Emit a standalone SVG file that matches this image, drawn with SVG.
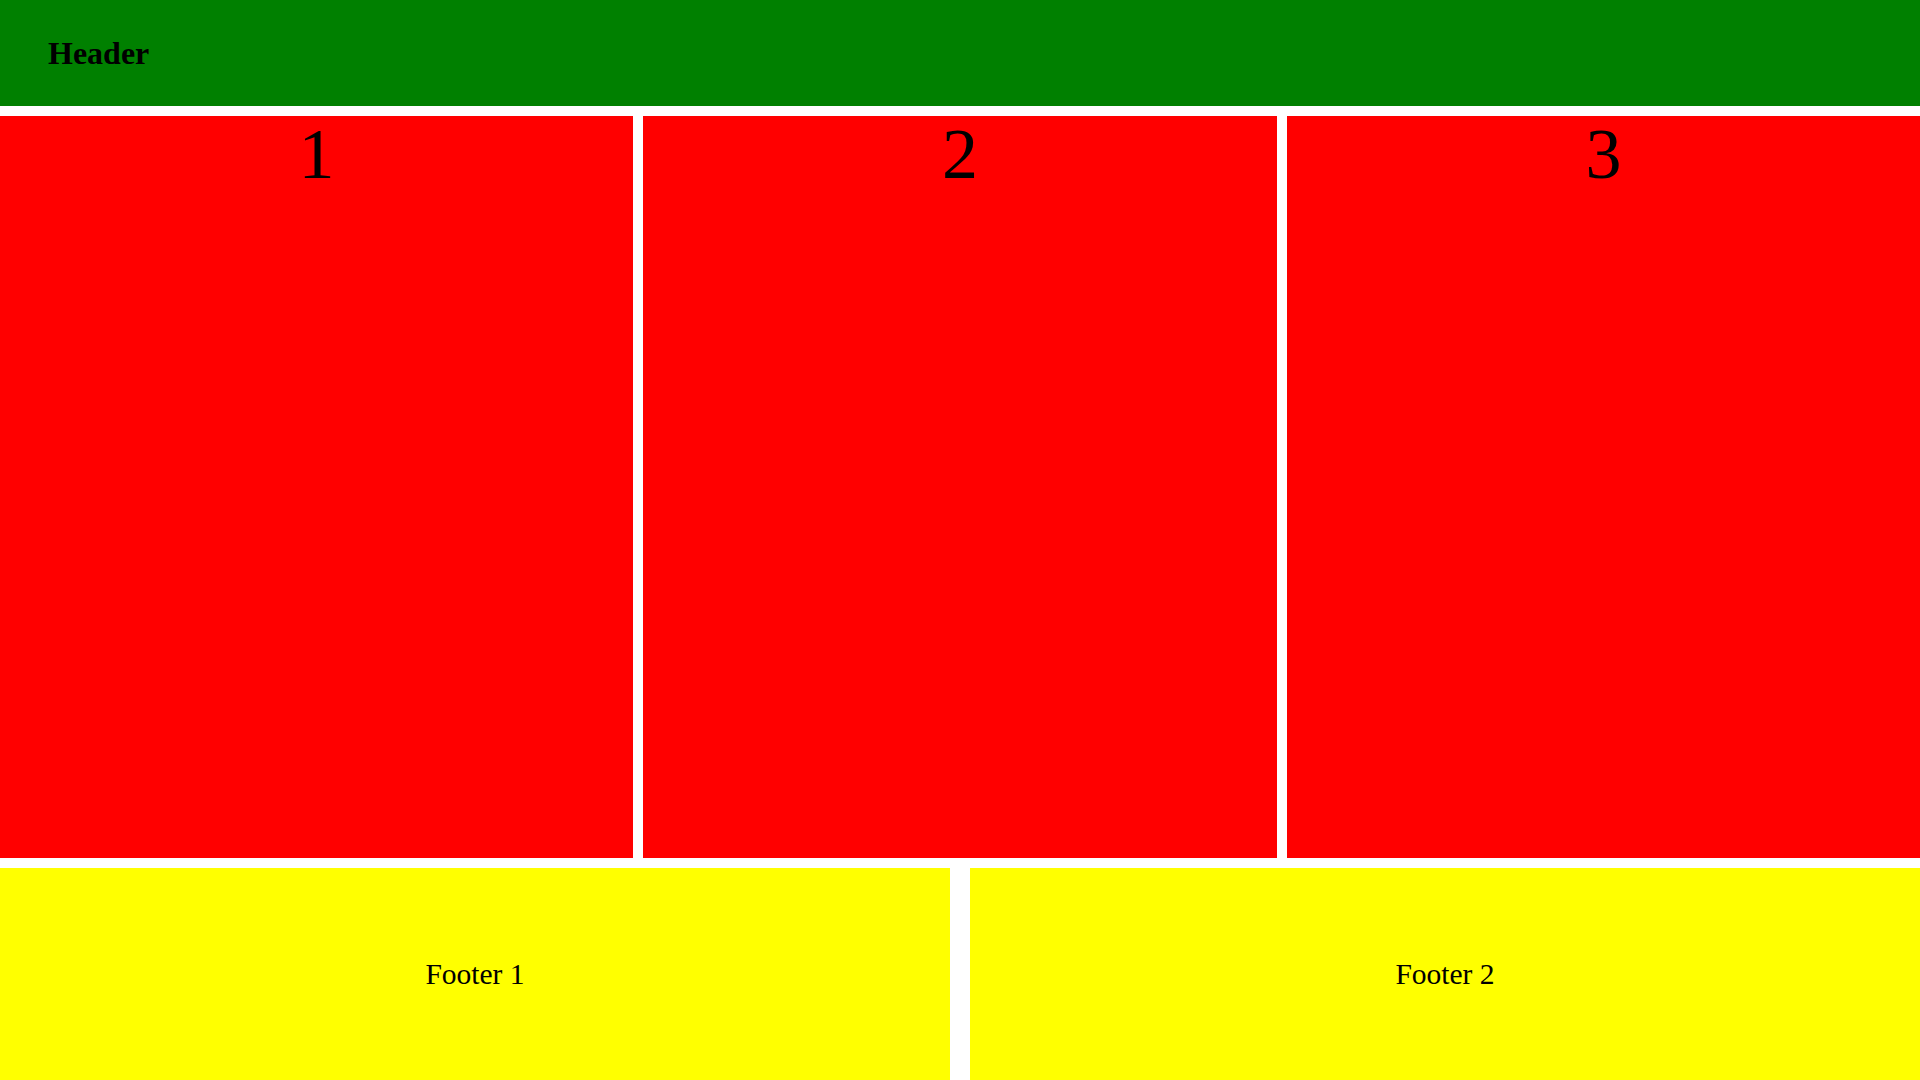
<svg xmlns="http://www.w3.org/2000/svg" width="1920" height="1080" viewBox="0 0 1920 1080">
<style>
.hd{fill:#008000}
.col{fill:#ff0000}
.ft{fill:#ffff00}
text{font-family:"Liberation Serif","Times New Roman",serif;fill:#000}
.ht{font-size:32px;font-weight:bold}
.ct{font-size:72px;text-anchor:middle}
.fx{font-size:29.5px;text-anchor:middle}
</style>
<rect x="0" y="0" width="1920" height="1080" fill="#ffffff"/>
<g id="header"><rect class="hd" x="0" y="0" width="1920" height="106"/><text class="ht" x="48" y="64">Header</text></g>
<g id="col1"><rect class="col" x="0" y="116" width="633" height="742"/><text class="ct" x="316.5" y="178">1</text></g>
<g id="col2"><rect class="col" x="643" y="116" width="634" height="742"/><text class="ct" x="960" y="178">2</text></g>
<g id="col3"><rect class="col" x="1287" y="116" width="633" height="742"/><text class="ct" x="1603.5" y="178">3</text></g>
<g id="footer1"><rect class="ft" x="0" y="868" width="950" height="212"/><text class="fx" x="475" y="984">Footer 1</text></g>
<g id="footer2"><rect class="ft" x="970" y="868" width="950" height="212"/><text class="fx" x="1445" y="984">Footer 2</text></g>
<g id="connectors"/>
</svg>
